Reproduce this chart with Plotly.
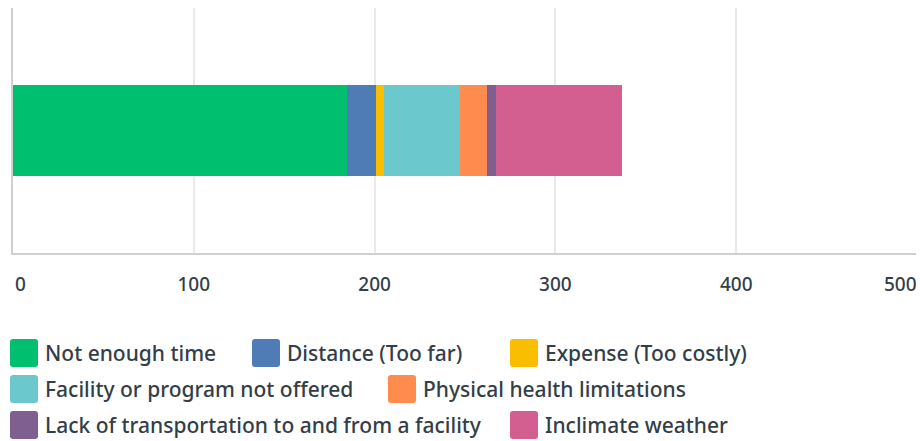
import plotly.graph_objects as go

# ---- data ----
categories = [
    "Not enough time",
    "Distance (Too far)",
    "Expense (Too costly)",
    "Facility or program not offered",
    "Physical health limitations",
    "Lack of transportation to and from a facility",
    "Inclimate weather",
]
values = [185, 16, 4, 42, 15, 5, 70]
colors = ["#00bf6f", "#507cb6", "#f9be00", "#6bc8cd", "#ff8b4f", "#7f5f90", "#d25f90"]
tick_vals = [0, 100, 200, 300, 400, 500]
question = ["Q"]

# ---- layout geometry (page body has an 8px margin) ----
OFF = 8
W, H = 924 - OFF, 441 - OFF
L, R, T, B = 13 - OFF, 7, 0, 188
PW, PH = W - L - R, H - T - B
TEXT = "#333e48"
FONT = "Noto Sans"
WEIGHT = 500

def px_x(page_px):
    return (page_px - OFF - L) / PW

def px_y(page_py):
    return (H - B - (page_py - OFF)) / PH

x_range = [tick_vals[0], tick_vals[-1]]
inner_text = [""] + [str(v) for v in tick_vals[1:-1]] + [""]
tickfont = dict(family=FONT, size=19, color=TEXT, weight=WEIGHT)

fig = go.Figure()
for name, val, col in zip(categories, values, colors):
    fig.add_bar(
        x=[val], y=question, orientation="h", name=name,
        marker=dict(color=col, line=dict(width=0)),
        width=0.37, showlegend=False,
    )

# custom legend (flow layout like the reference)
legend_slots = [(10, 353), (252, 353), (510, 353), (10, 389), (388, 389), (10, 425), (510, 425)]
sw = 28
rr = 3
swatch_path = (
    f"M {rr},{-sw/2} L {sw-rr},{-sw/2} Q {sw},{-sw/2} {sw},{-sw/2+rr} "
    f"L {sw},{sw/2-rr} Q {sw},{sw/2} {sw-rr},{sw/2} "
    f"L {rr},{sw/2} Q 0,{sw/2} 0,{sw/2-rr} "
    f"L 0,{-sw/2+rr} Q 0,{-sw/2} {rr},{-sw/2} Z"
)
shapes = []
annotations = []
for name, col, (sx, sy) in zip(categories, colors, legend_slots):
    shapes.append(dict(
        type="path", xref="paper", yref="paper",
        xsizemode="pixel", ysizemode="pixel",
        xanchor=px_x(sx), yanchor=px_y(sy),
        path=swatch_path, fillcolor=col, line=dict(width=0),
    ))
    annotations.append(dict(
        text=name, xref="paper", yref="paper",
        x=px_x(sx + 33), y=px_y(sy), xanchor="left", yanchor="middle",
        showarrow=False, font=dict(family=FONT, size=21, color=TEXT, weight=WEIGHT),
    ))

# first and last tick labels aligned inward, as in the reference
for v, anchor, shift in [(tick_vals[0], "left", 0), (tick_vals[-1], "right", 2)]:
    annotations.append(dict(
        text=str(v), xref="x", yref="paper", x=v, y=px_y(284),
        xanchor=anchor, yanchor="middle", xshift=shift,
        showarrow=False, font=tickfont,
    ))

fig.update_layout(
    width=W, height=H,
    margin=dict(l=L, r=R, t=T, b=B, pad=0, autoexpand=False),
    barmode="stack",
    bargap=0,
    plot_bgcolor="white",
    paper_bgcolor="white",
    font=dict(family=FONT, color=TEXT),
    shapes=shapes,
    annotations=annotations,
    xaxis=dict(
        range=x_range,
        automargin=False,
        tickvals=tick_vals,
        ticktext=inner_text,
        showgrid=True, gridcolor="#e9e9e9", gridwidth=2,
        showline=True, linecolor="#d0d0d0", linewidth=2,
        zeroline=False,
        ticks="", ticklabelstandoff=13,
        tickfont=tickfont,
    ),
    yaxis=dict(
        range=[-0.5, 0.5],
        automargin=False,
        showticklabels=False, showgrid=False, zeroline=False,
        showline=True, linecolor="#d0d0d0", linewidth=2,
    ),
)

fig.write_html("out.html", config={"displayModeBar": False})
